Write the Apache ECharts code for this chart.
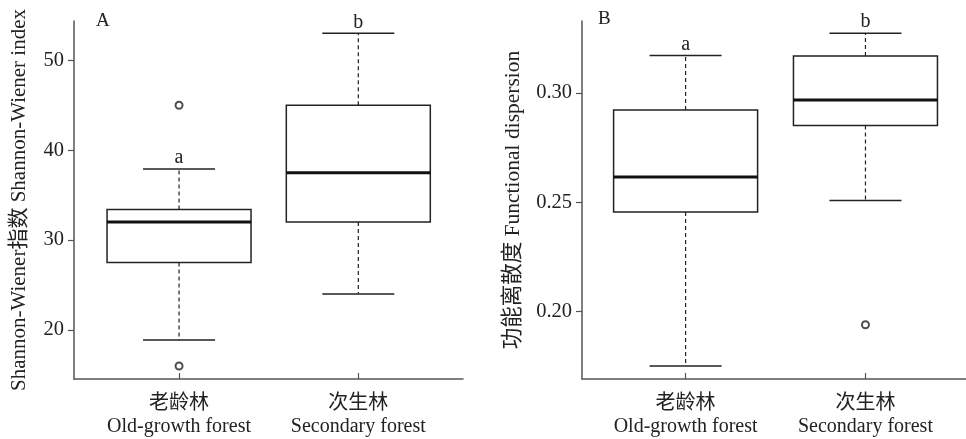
<!DOCTYPE html>
<html>
<head>
<meta charset="utf-8">
<script src="https://cdn.jsdelivr.net/npm/echarts@6/dist/echarts.min.js"></script>
<style>
html,body{margin:0;padding:0;background:#fff;}
#chart{width:966px;height:439px;}
</style>
</head>
<body>
<div id="chart"></div>
<script>
// ---- data ----
const catCn = ['老龄林', '次生林'];
const catEn = ['Old-growth forest', 'Secondary forest'];
// [min whisker, Q1, median, Q3, max whisker]
const shannonStats = [
  [18.9, 27.5, 32.0, 33.4, 37.9],
  [24.0, 32.0, 37.5, 45.0, 53.0]
];
const shannonOutliers = [[0, 45.0], [0, 16.0]];
const shannonLetters = ['a', 'b'];
const shannonTicks = [20, 30, 40, 50];

const fdisStats = [
  [0.1750, 0.2455, 0.2615, 0.2922, 0.3171],
  [0.2508, 0.2851, 0.2968, 0.3169, 0.3273]
];
const fdisOutliers = [[1, 0.1939]];
const fdisLetters = ['a', 'b'];
const fdisTicks = [0.20, 0.25, 0.30];

const panelLabels = ['A', 'B'];
const yTitles = ['Shannon-Wiener指数 Shannon-Wiener index', '功能离散度 Functional dispersion'];

// ---- styling ----
const FONT = "'Liberation Serif', 'Noto Sans CJK SC', serif";
const INK = '#222';
const AXIS = '#555';
const BOX_HALF = 72;
const CAP_HALF = 36;

function makeRender(letters) {
  return function (params, api) {
    const x = api.value(0);
    const pLo = api.coord([x, api.value(1)]);
    const pQ1 = api.coord([x, api.value(2)]);
    const pMed = api.coord([x, api.value(3)]);
    const pQ3 = api.coord([x, api.value(4)]);
    const pHi = api.coord([x, api.value(5)]);
    const cx = pMed[0];
    const solid = { stroke: INK, lineWidth: 1.5, fill: null };
    const dashed = { stroke: INK, lineWidth: 1.2, lineDash: [4, 3], fill: null };
    return {
      type: 'group',
      children: [
        { type: 'line', shape: { x1: cx, y1: pQ3[1], x2: cx, y2: pHi[1] }, style: dashed },
        { type: 'line', shape: { x1: cx, y1: pQ1[1], x2: cx, y2: pLo[1] }, style: dashed },
        { type: 'line', shape: { x1: cx - CAP_HALF, y1: pHi[1], x2: cx + CAP_HALF, y2: pHi[1] }, style: solid },
        { type: 'line', shape: { x1: cx - CAP_HALF, y1: pLo[1], x2: cx + CAP_HALF, y2: pLo[1] }, style: solid },
        { type: 'rect', shape: { x: cx - BOX_HALF, y: pQ3[1], width: 2 * BOX_HALF, height: pQ1[1] - pQ3[1] },
          style: { stroke: INK, lineWidth: 1.5, fill: '#fff' } },
        { type: 'line', shape: { x1: cx - BOX_HALF, y1: pMed[1], x2: cx + BOX_HALF, y2: pMed[1] },
          style: { stroke: '#111', lineWidth: 3 } },
        { type: 'text', x: cx, y: pHi[1] - 1,
          style: { text: letters[params.dataIndex], fill: INK, font: '20px ' + FONT, align: 'center', verticalAlign: 'bottom' } }
      ]
    };
  };
}

function boxData(stats) {
  return stats.map((s, i) => [i].concat(s));
}

function xAxisFor(gridIndex, min, max) {
  return {
    type: 'value', gridIndex, min, max,
    splitLine: { show: false },
    axisLine: { show: true, onZero: false, lineStyle: { color: AXIS, width: 1.5 } },
    axisTick: { show: true, inside: true, length: 6, customValues: [0, 1], lineStyle: { color: AXIS, width: 1.2 } },
    axisLabel: {
      customValues: [0, 1], margin: 13,
      formatter: v => catCn[Math.round(v)] + '\n' + catEn[Math.round(v)],
      fontFamily: FONT, fontSize: 20, lineHeight: 23, color: INK, align: 'center'
    }
  };
}

function yAxisFor(gridIndex, min, max, ticks, digits, nameGap, nameSize) {
  return {
    type: 'value', gridIndex, min, max,
    splitLine: { show: false },
    name: yTitles[gridIndex], nameLocation: 'middle', nameGap,
    nameTextStyle: { fontFamily: FONT, fontSize: nameSize, color: INK },
    axisLine: { show: true, onZero: false, lineStyle: { color: AXIS, width: 1.5 } },
    axisTick: { show: true, length: 6, customValues: ticks, lineStyle: { color: AXIS, width: 1.2 } },
    axisLabel: {
      customValues: ticks, margin: 10,
      formatter: v => Number(v).toFixed(digits),
      fontFamily: FONT, fontSize: 20.5, color: INK
    }
  };
}

const chart = echarts.init(document.getElementById('chart'), null, { renderer: 'canvas' });
chart.setOption({
  backgroundColor: '#fff',
  animation: false,
  grid: [
    { left: 74, top: 21, width: 389, bottom: 60 },
    { left: 582, top: 21, right: 0, bottom: 60 }
  ],
  xAxis: [
    xAxisFor(0, -0.586, 1.584),
    xAxisFor(1, -0.576, 1.559)
  ],
  yAxis: [
    yAxisFor(0, 14.55, 54.37, shannonTicks, 0, 44, 21),
    yAxisFor(1, 0.1691, 0.3329, fdisTicks, 2, 58, 21.5)
  ],
  graphic: [
    { type: 'text', left: 96, top: 12, style: { text: panelLabels[0], font: '19px ' + FONT, fill: INK } },
    { type: 'text', left: 598, top: 10, style: { text: panelLabels[1], font: '19px ' + FONT, fill: INK } }
  ],
  series: [
    { type: 'custom', xAxisIndex: 0, yAxisIndex: 0, renderItem: makeRender(shannonLetters), data: boxData(shannonStats), clip: false },
    { type: 'scatter', xAxisIndex: 0, yAxisIndex: 0, data: shannonOutliers, symbol: 'emptyCircle', symbolSize: 7,
      itemStyle: { color: INK, borderColor: INK, borderWidth: 1.2 } },
    { type: 'custom', xAxisIndex: 1, yAxisIndex: 1, renderItem: makeRender(fdisLetters), data: boxData(fdisStats), clip: false },
    { type: 'scatter', xAxisIndex: 1, yAxisIndex: 1, data: fdisOutliers, symbol: 'emptyCircle', symbolSize: 7,
      itemStyle: { color: INK, borderColor: INK, borderWidth: 1.2 } }
  ]
});
</script>
</body>
</html>
